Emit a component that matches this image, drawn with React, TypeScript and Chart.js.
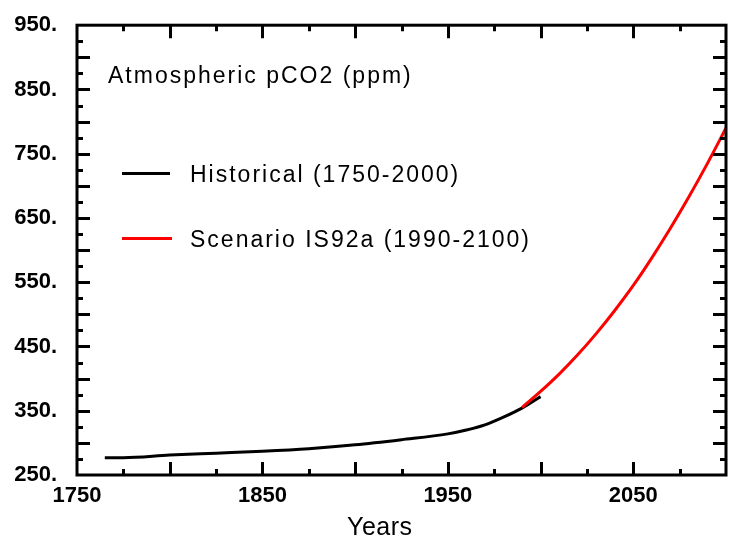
import React, { useEffect, useRef } from 'react';
import { Chart, registerables } from 'chart.js';

Chart.register(...registerables);

// ---- Data ----
const histYears = [1765, 1775, 1800, 1825, 1850, 1875, 1900, 1925, 1950, 1960, 1970, 1980, 1990, 2000];
const histCO2 = [277, 277, 281, 284, 287, 291, 297, 305, 314, 320, 328, 340, 354, 372];
const scenYears = [1990, 2000, 2010, 2020, 2030, 2040, 2050, 2060, 2070, 2080, 2090, 2100];
const scenCO2 = [355, 380, 407, 437, 470, 506, 545, 588, 634, 683, 735, 790];
const xTickLabels = [1750, 1850, 1950, 2050];
const yTickLabels = [250, 350, 450, 550, 650, 750, 850, 950];

const titleText = 'Atmospheric pCO2 (ppm)';
const histLabel = 'Historical (1750-2000)';
const scenLabel = 'Scenario IS92a (1990-2100)';
const xAxisTitle = 'Years';

const FONT = '"Liberation Sans", Arial, Helvetica, sans-serif';

const framePlugin = {
  id: 'frameAndText',
  afterDatasetsDraw(chart: any) {
    const { ctx, chartArea: a, scales } = chart;
    const x = scales.x;
    const y = scales.y;
    ctx.save();
    ctx.strokeStyle = '#000';
    ctx.lineCap = 'butt';
    ctx.lineWidth = 3;
    ctx.strokeRect(a.left, a.top, a.right - a.left, a.bottom - a.top);

    ctx.beginPath();
    for (let v = 1775; v < 2100; v += 25) {
      const px = Math.round(x.getPixelForValue(v)) + 0.5;
      const len = v % 50 === 0 ? 13 : 6;
      ctx.moveTo(px, a.bottom); ctx.lineTo(px, a.bottom - len);
      ctx.moveTo(px, a.top); ctx.lineTo(px, a.top + len);
    }
    for (let v = 275; v < 950; v += 25) {
      const py = Math.round(y.getPixelForValue(v)) + 0.5;
      const len = v % 50 === 0 ? 13 : 6;
      ctx.moveTo(a.left, py); ctx.lineTo(a.left + len, py);
      ctx.moveTo(a.right, py); ctx.lineTo(a.right - len, py);
    }
    ctx.stroke();

    // Legend lines
    ctx.lineWidth = 3;
    ctx.strokeStyle = '#000';
    ctx.beginPath(); ctx.moveTo(122, 173.5); ctx.lineTo(170, 173.5); ctx.stroke();
    ctx.strokeStyle = '#ff0000';
    ctx.beginPath(); ctx.moveTo(122, 238.5); ctx.lineTo(172, 238.5); ctx.stroke();

    // Texts
    ctx.fillStyle = '#000';
    ctx.textAlign = 'left';
    ctx.textBaseline = 'alphabetic';
    ctx.font = `23px ${FONT}`;
    (ctx as any).letterSpacing = '2px';
    ctx.fillText(titleText, 108, 83);
    ctx.fillText(histLabel, 190, 182);
    ctx.fillText(scenLabel, 190, 247);

    ctx.font = `25px ${FONT}`;
    (ctx as any).letterSpacing = '0.5px';
    ctx.fillText(xAxisTitle, 347, 535);
    (ctx as any).letterSpacing = '0px';
    ctx.restore();
  },
};

export default function App() {
  const canvasRef = useRef<HTMLCanvasElement | null>(null);

  useEffect(() => {
    document.body.style.margin = '0';
    const canvas = canvasRef.current;
    if (!canvas) return;
    const chart = new Chart(canvas, {
      type: 'line',
      data: {
        datasets: [
          {
            label: scenLabel,
            data: scenYears.map((yr, i) => ({ x: yr, y: scenCO2[i] })),
            borderColor: '#ff0000',
            borderWidth: 3,
            pointRadius: 0,
            cubicInterpolationMode: 'monotone',
            order: 0,
          },
          {
            label: histLabel,
            data: histYears.map((yr, i) => ({ x: yr, y: histCO2[i] })),
            borderColor: '#000000',
            borderWidth: 3,
            pointRadius: 0,
            cubicInterpolationMode: 'monotone',
            order: 1,
          },
        ],
      },
      options: {
        responsive: false,
        animation: false,
        devicePixelRatio: 1,
        layout: { padding: { top: 17, right: 4, left: 0, bottom: 0 } },
        plugins: {
          legend: { display: false },
          tooltip: { enabled: false },
          title: { display: false },
        },
        scales: {
          x: {
            type: 'linear',
            min: 1750,
            max: 2100,
            grid: { display: false },
            border: { display: false },
            afterBuildTicks: (s: any) => {
              s.ticks = xTickLabels.map((v) => ({ value: v }));
            },
            afterFit: (s: any) => {
              s.height = 65;
            },
            ticks: {
              autoSkip: false,
              maxRotation: 0,
              padding: 0,
              color: '#000',
              font: { family: FONT, size: 22, weight: 'bold' },
              callback: (v: any) => String(v),
            },
          },
          y: {
            type: 'linear',
            min: 250,
            max: 950,
            grid: { display: false },
            border: { display: false },
            afterBuildTicks: (s: any) => {
              s.ticks = yTickLabels.map((v) => ({ value: v }));
            },
            afterFit: (s: any) => {
              s.width = 77;
            },
            ticks: {
              autoSkip: false,
              padding: 12,
              color: '#000',
              font: { family: FONT, size: 22, weight: 'bold' },
              callback: (v: any) => `${v}.`,
            },
          },
        },
      } as any,
      plugins: [framePlugin],
    });
    return () => chart.destroy();
  }, []);

  return (
    <div style={{ width: 730, height: 540, background: '#fff' }}>
      <canvas ref={canvasRef} width={730} height={540} style={{ display: 'block' }} />
    </div>
  );
}
